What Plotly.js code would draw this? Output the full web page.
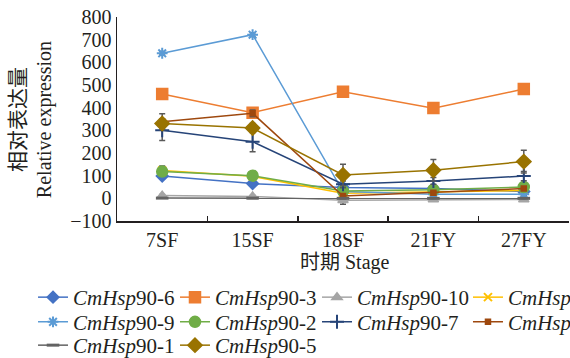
<!DOCTYPE html>
<html>
<head>
<meta charset="utf-8">
<script src="https://cdn.plot.ly/plotly-3.0.1.min.js"></script>
<style>html,body{margin:0;padding:0;background:#fff}#chart{width:570px;height:358px}</style>
</head>
<body>
<div id="chart"></div>
<script>
var stages = ["7SF", "15SF", "18SF", "21FY", "27FY"];

var hsp90_6 = [98, 65, 48, 43, 30];
var hsp90_3 = [460, 378, 470, 398, 482];
var hsp90_10 = [12, 8, -8, -5, -5];
var hsp90_4 = [123, 97, 22, 30, 35];
var hsp90_9 = [640, 722, 30, 18, 18];
var hsp90_2 = [118, 100, 32, 38, 50];
var hsp90_7 = [300, 250, 62, 77, 98];
var hsp90_8 = [338, 375, 10, 25, 43];
var hsp90_1 = [1, 1, 0, 0, 0];
var hsp90_5 = [330, 310, 103, 124, 162];

var err90_6 = [8, 6, 5, 5, 5];
var err90_3 = [15, 15, 15, 15, 15];
var err90_10 = [5, 5, 18, 8, 8];
var err90_4 = [20, 8, 5, 5, 5];
var err90_9 = [8, 8, 5, 5, 5];
var err90_2 = [20, 8, 5, 5, 8];
var err90_7 = [45, 45, 15, 15, 20];
var err90_8 = [35, 15, 5, 5, 5];
var err90_1 = [1, 1, 1, 1, 1];
var err90_5 = [20, 20, 47, 47, 50];

function tr(name, y, err, color, symbol, size, lg, extra) {
  return {
    type: "scatter", mode: "lines+markers",
    x: stages, y: y, name: "<i>CmHsp</i>90-" + name, legend: lg,
    line: {color: color, width: 1.5},
    marker: Object.assign({symbol: symbol, size: size, color: color, line: {color: color, width: 1.5}}, extra || {}),
    error_y: {type: "data", array: err, visible: true, color: "#595959", thickness: 1.5, width: 3}
  };
}

var data = [
  tr("6", hsp90_6, err90_6, "#4472C4", "diamond", 9, "legend"),
  tr("3", hsp90_3, err90_3, "#ED7D31", "square", 11, "legend2"),
  tr("10", hsp90_10, err90_10, "#A5A5A5", "triangle-up", 9, "legend3"),
  tr("4", hsp90_4, err90_4, "#FFC000", "x-thin-open", 8, "legend4", {line: {color: "#FFC000", width: 2}}),
  tr("9", hsp90_9, err90_9, "#5B9BD5", "asterisk-open", 9, "legend5", {line: {color: "#5B9BD5", width: 2}}),
  tr("2", hsp90_2, err90_2, "#70AD47", "circle", 11, "legend6"),
  tr("7", hsp90_7, err90_7, "#264478", "cross-thin-open", 10, "legend7", {line: {color: "#264478", width: 2}}),
  tr("8", hsp90_8, err90_8, "#9E480E", "square", 5, "legend8"),
  tr("1", hsp90_1, err90_1, "#636363", "line-ew-open", 9, "legend9", {line: {color: "#636363", width: 3}}),
  tr("5", hsp90_5, err90_5, "#997300", "diamond", 11, "legend10")
];

var font = "Liberation Serif, Times New Roman, Noto Sans CJK SC, serif";

var colX = [-0.1858, 0.1283, 0.4425, 0.7765];
var rowY = [-0.2745, -0.3956, -0.5098];

function lg(c, r) {
  return {
    orientation: "h", x: colX[c], xanchor: "left", y: rowY[r], yanchor: "top",
    font: {family: font, size: 21, color: "#231f20"},
    itemwidth: 30, tracegroupgap: 0, bgcolor: "rgba(0,0,0,0)"
  };
}

var layout = {
  width: 570, height: 358,
  margin: {l: 117, r: 1, t: 17, b: 137, autoexpand: false},
  paper_bgcolor: "#fff", plot_bgcolor: "#fff",
  font: {family: font, size: 20, color: "#231f20"},
  showlegend: true,
  xaxis: {
    type: "category", range: [-0.5, 4.5],
    showline: true, linecolor: "#231f20", linewidth: 1.5,
    ticks: "inside", tickson: "boundaries", ticklen: 5, tickcolor: "#231f20", tickwidth: 1.5,
    showgrid: false, zeroline: false,
    tickfont: {family: font, size: 20}
  },
  yaxis: {
    range: [-100, 800], dtick: 100,
    showline: true, linecolor: "#231f20", linewidth: 1.5,
    ticks: "", showgrid: false, zeroline: false,
    tickfont: {family: font, size: 20}
  },
  legend: lg(0, 0), legend2: lg(1, 0), legend3: lg(2, 0), legend4: lg(3, 0),
  legend5: lg(0, 1), legend6: lg(1, 1), legend7: lg(2, 1), legend8: lg(3, 1),
  legend9: lg(0, 2), legend10: lg(1, 2),
  annotations: [
    {text: "<span style=\"font-size:21px\">相对表达量</span><br>Relative expression", xref: "paper", yref: "paper",
     x: -0.19, y: 0.495, xanchor: "center", yanchor: "middle", textangle: -90, showarrow: false,
     font: {family: font, size: 20}},
    {text: "时期 Stage", xref: "paper", yref: "paper",
     x: 0.504, y: -0.201, xanchor: "center", yanchor: "middle", showarrow: false,
     font: {family: font, size: 20}}
  ]
};

Plotly.newPlot("chart", data, layout, {staticPlot: true, displayModeBar: false});
</script>
</body>
</html>
